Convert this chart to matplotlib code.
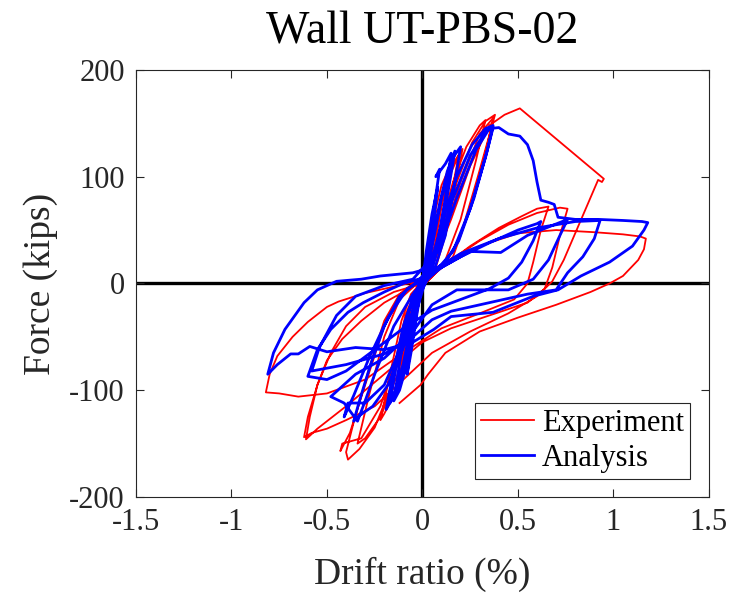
import matplotlib
matplotlib.use("Agg")
import matplotlib.pyplot as plt
import numpy as np

plt.rcParams['font.family'] = ['Liberation Serif', 'DejaVu Serif']
plt.rcParams['axes.unicode_minus'] = False

# measured hysteresis, drift ratio (%) vs lateral force (kips)
experiment = [
    (0, 0), (0.02, 25), (0.05, 55), (0.07, 68), (0.05, 45), (0.02, 12), (0, 2),
    (-0.02, -20), (-0.05, -50), (-0.07, -62), (-0.05, -40), (-0.02, -10), (0, -1),
    (0.03, 30), (0.07, 70), (0.10, 92), (0.13, 104), (0.10, 72), (0.06, 30), (0.03, 8), (0, 0),
    (-0.04, -35), (-0.08, -72), (-0.11, -92), (-0.13, -100), (-0.10, -68), (-0.06, -25), (-0.02, -3),
    (0.02, 10), (0.06, 50), (0.12, 92), (0.17, 115), (0.21, 126), (0.17, 90), (0.12, 45),
    (0.07, 15), (0.02, 3), (-0.03, -20), (-0.09, -70), (-0.15, -105), (-0.20, -122),
    (-0.22, -128), (-0.17, -85), (-0.11, -35), (-0.06, -10), (-0.01, 0),
    (0.03, 12), (0.08, 60), (0.14, 100), (0.19, 120), (0.16, 92), (0.10, 40), (0.04, 10),
    (-0.02, -8), (-0.08, -60), (-0.14, -100), (-0.19, -118), (-0.15, -80), (-0.09, -30), (-0.03, -4),
    (0.03, 12), (0.09, 50), (0.16, 95), (0.23, 128), (0.30, 148), (0.33, 153), (0.28, 115),
    (0.20, 60), (0.12, 22), (0.05, 6), (0, -2), (-0.06, -35), (-0.13, -85), (-0.22, -125),
    (-0.30, -145), (-0.34, -150), (-0.28, -105), (-0.20, -50), (-0.12, -15), (-0.04, -2),
    (0.03, 8), (0.10, 45), (0.18, 95), (0.26, 132), (0.33, 152), (0.38, 158), (0.36, 145),
    (0.29, 100), (0.20, 45), (0.12, 18), (0.04, 5), (-0.02, -5), (-0.08, -40), (-0.16, -95),
    (-0.25, -135), (-0.33, -155), (-0.39, -165), (-0.40, -158), (-0.36, -130), (-0.28, -80),
    (-0.20, -35), (-0.12, -10), (-0.05, 0),
    (0.02, 6), (0.10, 40), (0.20, 95), (0.30, 140), (0.37, 155), (0.34, 130), (0.26, 75),
    (0.16, 25), (0.06, 8), (-0.03, -8), (-0.12, -60), (-0.22, -115), (-0.32, -145),
    (-0.42, -150), (-0.43, -157), (-0.38, -140), (-0.30, -95), (-0.20, -40), (-0.10, -8), (-0.02, 2),
    (0.05, 15), (0.15, 60), (0.25, 110), (0.35, 148), (0.43, 158), (0.51, 164),
    (0.95, 98), (0.94, 95), (0.92, 97), (0.86, 72), (0.80, 47), (0.74, 22), (0.68, 2),
    (0.60, -12), (0.45, -28), (0.25, -45), (0.05, -65), (-0.10, -90), (-0.25, -115),
    (-0.40, -128), (-0.50, -136), (-0.58, -140), (-0.62, -144), (-0.60, -125), (-0.55, -95),
    (-0.48, -65), (-0.40, -40), (-0.30, -22), (-0.15, -8), (0, 0),
    (0.10, 15), (0.25, 35), (0.40, 52), (0.52, 63), (0.60, 70), (0.66, 72), (0.62, 50),
    (0.58, 20), (0.55, 0), (0.48, -15), (0.30, -28), (0.10, -42), (-0.10, -65), (-0.30, -90),
    (-0.50, -103), (-0.65, -106), (-0.75, -103), (-0.82, -102), (-0.80, -85), (-0.76, -68),
    (-0.68, -50), (-0.60, -36), (-0.50, -22), (-0.44, -17), (-0.30, -9), (-0.15, -3), (0, 3),
    (0.15, 22), (0.30, 40), (0.45, 55), (0.60, 66), (0.72, 71), (0.76, 70), (0.72, 45),
    (0.68, 15), (0.64, -5), (0.55, -18), (0.35, -30), (0.15, -42), (0, -55), (-0.20, -85),
    (-0.40, -115), (-0.55, -136), (-0.61, -146), (-0.59, -125), (-0.55, -95), (-0.50, -72),
    (-0.42, -52), (-0.32, -35), (-0.20, -18), (-0.05, -3),
    (0.10, 15), (0.30, 35), (0.50, 47), (0.70, 50), (0.90, 48), (1.05, 46), (1.14, 44),
    (1.17, 42), (1.16, 32), (1.13, 22), (1.05, 7), (0.98, 0), (0.88, -8), (0.70, -20),
    (0.50, -32), (0.30, -45), (0.12, -65), (0.03, -85), (-0.01, -95), (-0.12, -112),
]

# numerical model response
analysis = [
    (0, 0), (0.02, 30), (0.05, 65), (0.08, 90), (0.06, 60), (0.03, 20), (0, 2),
    (-0.03, -30), (-0.06, -65), (-0.08, -85), (-0.06, -55), (-0.03, -15), (0, 0),
    (0.03, 25), (0.06, 70), (0.09, 107), (0.07, 100), (0.12, 112), (0.15, 122), (0.12, 80),
    (0.07, 30), (0.02, 5), (-0.03, -25), (-0.08, -75), (-0.12, -100), (-0.15, -110),
    (-0.12, -75), (-0.07, -25), (-0.02, -3),
    (0.04, 25), (0.10, 80), (0.16, 118), (0.20, 128), (0.17, 95), (0.12, 45), (0.06, 12),
    (0, 0), (-0.05, -30), (-0.10, -75), (-0.15, -105), (-0.19, -118), (-0.16, -90),
    (-0.10, -40), (-0.04, -8), (0.01, 2),
    (0.04, 30), (0.09, 75), (0.13, 105), (0.17, 124), (0.14, 92), (0.09, 40), (0.04, 10),
    (-0.02, -12), (-0.07, -60), (-0.12, -95), (-0.17, -112), (-0.14, -80), (-0.08, -30), (-0.02, -2),
    (0.03, 10), (0.10, 55), (0.18, 100), (0.26, 130), (0.33, 145), (0.37, 148), (0.34, 125),
    (0.27, 80), (0.19, 40), (0.10, 15), (0.03, 5), (-0.03, -15), (-0.10, -60), (-0.18, -95),
    (-0.26, -115), (-0.34, -125), (-0.36, -129), (-0.33, -110), (-0.27, -75), (-0.20, -40),
    (-0.12, -12), (-0.04, 0),
    (0.05, 15), (0.15, 75), (0.25, 120), (0.33, 142), (0.37, 146), (0.33, 118), (0.25, 70),
    (0.16, 30), (0.06, 10), (-0.02, -5), (-0.10, -55), (-0.20, -95), (-0.30, -112),
    (-0.39, -112), (-0.41, -125), (-0.36, -105), (-0.28, -70), (-0.18, -32), (-0.08, -5), (0, 3),
    (0.05, 10), (0.20, 25), (0.35, 38), (0.50, 50), (0.60, 56), (0.62, 58), (0.58, 40),
    (0.52, 20), (0.45, 5), (0.35, -5), (0.20, -15), (0.05, -25), (-0.10, -42), (-0.25, -62),
    (-0.40, -82), (-0.50, -90), (-0.60, -87), (-0.55, -62), (-0.48, -43), (-0.39, -27),
    (-0.31, -18), (-0.20, -8), (-0.10, 0), (0, 5),
    (0.10, 15), (0.25, 30), (0.41, 29), (0.55, 45), (0.76, 60), (0.72, 45), (0.66, 22),
    (0.58, 4), (0.45, -6), (0.18, -6), (0.05, -20), (-0.05, -45),
    (-0.20, -70), (-0.35, -85), (-0.48, -106), (-0.41, -112), (-0.34, -129), (-0.30, -110),
    (-0.25, -85), (-0.15, -40), (-0.05, -10), (0.02, 5),
    (0.05, 12), (0.20, 28), (0.40, 42), (0.60, 52), (0.80, 58), (0.93, 59), (0.90, 42),
    (0.84, 25), (0.76, 10), (0.70, -6), (0.55, -10), (0.35, -18), (0.15, -26), (0.05, -34),
    (-0.05, -50), (-0.20, -66), (-0.40, -76), (-0.52, -80), (-0.58, -82), (-0.54, -60),
    (-0.45, -30), (-0.35, -12), (-0.20, -2), (-0.05, 4),
    (0.08, 30), (0.18, 80), (0.28, 125), (0.35, 145), (0.40, 146), (0.45, 140), (0.51, 138),
    (0.55, 130), (0.58, 115), (0.60, 95), (0.62, 78), (0.66, 76), (0.69, 74), (0.71, 62),
    (0.80, 60), (0.92, 60), (1.05, 59), (1.15, 58), (1.18, 57), (1.16, 50), (1.10, 35),
    (0.98, 20), (0.83, 7), (0.71, -6), (0.58, -12), (0.37, -27), (0.15, -31), (0.06, -43),
    (-0.05, -55), (-0.20, -62), (-0.35, -60), (-0.50, -64), (-0.59, -59), (-0.65, -66),
    (-0.69, -66), (-0.76, -76), (-0.81, -85), (-0.78, -65), (-0.72, -43), (-0.62, -18),
    (-0.55, -6), (-0.45, 2), (-0.32, 4), (-0.22, 7), (-0.05, 10), (0.05, 15),
]

xtick_vals = [-1.5, -1, -0.5, 0, 0.5, 1, 1.5]
xtick_labels = ['-1.5', '-1', '-0.5', '0', '0.5', '1', '1.5']
ytick_vals = [-200, -100, 0, 100, 200]
ytick_labels = ['-200', '-100', '0', '100', '200']

exp = np.array(experiment)
ana = np.array(analysis)

fig = plt.figure(figsize=(7.44, 5.94), dpi=100)
ax = fig.add_axes([0.1828, 0.1633, 0.770, 0.719])

ax.axhline(0, color='k', lw=2.4, zorder=1)
ax.axvline(0, color='k', lw=2.4, zorder=1)
ax.plot(exp[:, 0], exp[:, 1], color='red', lw=1.3, label='Experiment', zorder=2)
ax.plot(ana[:, 0], ana[:, 1], color='blue', lw=2.0, label='Analysis', zorder=3)

ax.set_xlim(-1.5, 1.5)
ax.set_ylim(-200, 200)
ax.set_xticks(xtick_vals, xtick_labels)
ax.set_yticks(ytick_vals, ytick_labels)
dark = '#262626'
ax.tick_params(direction='in', length=6, width=0.8, top=True, right=True,
               labelsize=22, colors=dark, pad=8)
for s in ax.spines.values():
    s.set_color(dark)
    s.set_linewidth(0.8)

ax.set_xlabel('Drift ratio (%)', fontsize=27, color=dark, labelpad=14)
ax.set_ylabel('Force (kips)', fontsize=27, color=dark, labelpad=8)
ax.set_title('Wall UT-PBS-02', fontsize=33, color='k', pad=19)

leg = ax.legend(loc='lower right', bbox_to_anchor=(0.967, 0.042), borderaxespad=0,
                fontsize=22, fancybox=False, framealpha=1, edgecolor=dark,
                handlelength=1.75, handletextpad=0.25, borderpad=0.2, labelspacing=0.2)
leg.get_frame().set_linewidth(0.8)

fig.savefig('out.png', dpi=100)
